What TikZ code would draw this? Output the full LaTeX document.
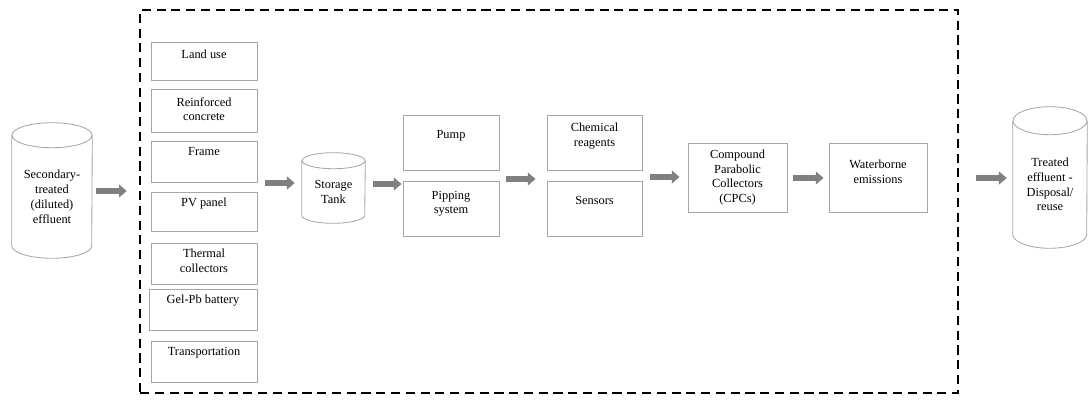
\documentclass[tikz,border=0pt]{standalone}
\usepackage{fontspec}
\setmainfont{Liberation Serif}
\usetikzlibrary{
    arrows.meta,
    positioning,
    calc
}
\def\px{0.025cm}
\newcommand\stagefont{\fontsize{8.8}{10.5}\selectfont}
\tikzset{
    % Colors
    line gray/.style={black!35},
    arrow gray/.style={black!50},
    %
    % Nodes
    stage/.style={draw, line gray, line width=0.6pt, inner sep=0pt},
    txt/.style={anchor=north, inner sep=0pt, align=center, yshift=-#1*\px, font=\stagefont, text=black},
    tank/.style={inner sep=0pt, align=center, font=\stagefont},
    tank line/.style={line gray, line width=0.6pt},
    boundary/.style={draw, line width=1.8pt, dash pattern=on 6.5pt off 4pt},
    %
    % Arrows
    flow/.style={arrow gray, line width=4.5pt, -{Triangle[length=5.5pt,width=9pt]}}
}
% cylinder outline round a node: node, x radius, y radius (px)
\newcommand\tankoutline[3]{%
    \draw[tank line] (#1.north west) -- ([yshift=#3*\px]#1.south west)
        arc[start angle=180, end angle=360, x radius=#2*\px, y radius=#3*\px] -- (#1.north east)
        (#1.north) ellipse[x radius=#2*\px, y radius=#3*\px];
}

\begin{document}
\begin{tikzpicture}[x=\px, y=-\px]
    \useasboundingbox (0,0) rectangle (1088,400);

    % system boundary
    \node[boundary, minimum width=818*\px, minimum height=383*\px] (boundary) at (549,201.5) {};

    % input and output
    \node[tank, minimum width=80*\px, minimum height=122.5*\px] (src) at (52,196.75) {Secondary-\\treated\\(diluted)\\effluent};
    \tankoutline{src}{40}{12.5}
    \node[tank, minimum width=74*\px, minimum height=127*\px] (dst) at (1050,184.5) {Treated\\effluent -\\Disposal/\\reuse};
    \tankoutline{dst}{37}{14}

    % infrastructure column
    \node[stage, minimum width=106*\px, minimum height=38*\px, label={[txt=8]north:Land use}] (land) at (204,61) {};
    \node[stage, minimum width=106*\px, minimum height=43*\px, label={[txt=8.5]north:{Reinforced\\concrete}}] (concrete) at (204,110.5) {};
    \node[stage, minimum width=106*\px, minimum height=41*\px, label={[txt=7]north:Frame}] (frame) at (204,161.5) {};
    \node[stage, minimum width=106*\px, minimum height=39*\px, label={[txt=6]north:PV panel}] (pv) at (204,211.5) {};
    \node[stage, minimum width=106*\px, minimum height=41*\px, label={[txt=6]north:{Thermal\\collectors}}] (thermal) at (204,263.5) {};
    \node[stage, minimum width=108*\px, minimum height=41*\px, label={[txt=6]north:Gel-Pb battery}] (battery) at (203,309.5) {};
    \node[stage, minimum width=106*\px, minimum height=41*\px, label={[txt=6]north:Transportation}] (transport) at (204,361.5) {};

    % storage
    \node[tank, minimum width=63*\px, minimum height=62*\px] (store) at (333.5,192) {Storage\\Tank};
    \tankoutline{store}{31.5}{8}

    % distribution
    \node[stage, minimum width=96*\px, minimum height=55*\px, label={[txt=16]north:Pump}] (pump) at (451,142.5) {};
    \node[stage, minimum width=96*\px, minimum height=55*\px, label={[txt=10]north:{Pipping\\system}}] (pipe) at (451,208.5) {};

    % control
    \node[stage, minimum width=95*\px, minimum height=55*\px, label={[txt=8]north:{Chemical\\reagents}}] (chem) at (594.5,142.5) {};
    \node[stage, minimum width=95*\px, minimum height=55*\px, label={[txt=15]north:Sensors}] (sens) at (594.5,208.5) {};

    % treatment and emissions
    \node[stage, minimum width=99*\px, minimum height=69*\px, label={[txt=7]north:{Compound\\Parabolic\\Collectors\\(CPCs)}}] (cpc) at (737.5,177.5) {};
    \node[stage, minimum width=98*\px, minimum height=69*\px, label={[txt=17]north:{Waterborne\\emissions}}] (water) at (878,177.5) {};

    % flows
    \draw[flow, shorten <=4*\px, shorten >=12*\px] (src.east |- 0,191) -- (boundary.west |- 0,191);
    \draw[flow, shorten <=8*\px, shorten >=7*\px] (frame.east |- 0,183) -- (store.west |- 0,183);
    \draw[flow, shorten <=8*\px, shorten >=1*\px] (store.east |- 0,184) -- (pipe.west |- 0,184);
    \draw[flow, shorten <=7*\px, shorten >=11*\px] (pipe.east |- 0,179) -- (sens.west |- 0,179);
    \draw[flow, shorten <=8*\px, shorten >=8*\px] (sens.east |- 0,177) -- (cpc.west |- 0,177);
    \draw[flow, shorten <=6*\px, shorten >=5*\px] (cpc.east |- 0,178) -- (water.west |- 0,178);
    \draw[flow, shorten <=17*\px, shorten >=6*\px] (boundary.east |- 0,178) -- (dst.west |- 0,178);
\end{tikzpicture}
\end{document}
